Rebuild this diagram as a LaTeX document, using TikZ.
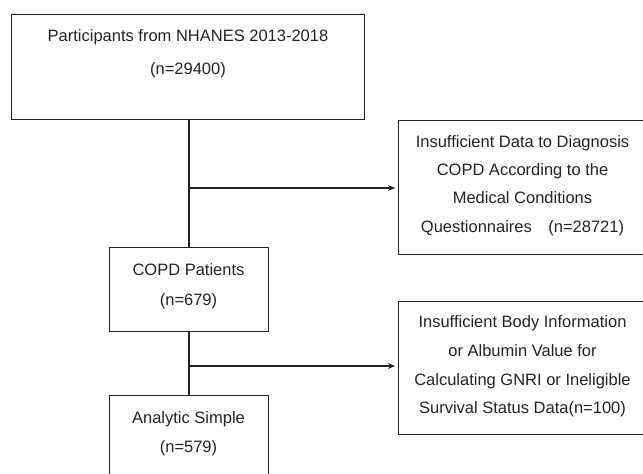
\documentclass[tikz,border=0pt]{standalone}
\usepackage{fontspec}
\setmainfont{Liberation Sans}
\usetikzlibrary{arrows.meta}
\definecolor{ink}{RGB}{35,35,35}
\tikzset{
  box/.style={draw=ink, line width=1.1pt, inner sep=0pt, anchor=north west},
  txt/.style={text=ink, align=center, inner sep=0pt, font=\fontsize{16.5}{#1}\selectfont},
  link/.style={draw=ink, line width=1.1pt},
  arr/.style={link, -{Stealth[length=7pt,width=6pt]}, shorten >=3pt}
}
\begin{document}
\begin{tikzpicture}[x=1pt,y=-1pt]
\useasboundingbox (0,0) rectangle (643,474);
\clip (0,0) rectangle (643,474);
% boxes
\node[box, minimum width=353pt, minimum height=105pt] (top) at (11,14) {};
\node[box, minimum width=260pt, minimum height=134pt] (ex1) at (398,120) {};
\node[box, minimum width=159pt, minimum height=84pt] (copd) at (109,247) {};
\node[box, minimum width=260pt, minimum height=133pt] (ex2) at (398,301) {};
\node[box, minimum width=159pt, minimum height=100pt] (ana) at (109,395) {};
% texts
\node[txt=33] (ttop) at (188,53.5) {Participants from NHANES 2013-2018\\(n=29400)};
\node[txt=28.2] (tex1) at (522.5,185.5) {Insufficient Data to Diagnosis\\COPD According to the\\Medical Conditions\\Questionnaires\quad(n=28721)};
\node[txt=30] (tcopd) at (188.5,286.5) {COPD Patients\\(n=679)};
\node[txt=28.7] (tex2) at (522.5,366.5) {Insufficient Body Information\\or Albumin Value for\\Calculating GNRI or Ineligible\\Survival Status Data(n=100)};
\node[txt=29] (tana) at (188.5,434) {Analytic Simple\\(n=579)};
% connectors
\coordinate (b1) at (189,188);
\coordinate (b2) at (189,366);
\draw[link] (top.south -| b1) -- (copd.north -| b1);
\draw[link] (copd.south -| b2) -- (ana.north -| b2);
\draw[arr] (b1) -- (b1 -| ex1.west);
\draw[arr] (b2) -- (b2 -| ex2.west);
\end{tikzpicture}
\end{document}
